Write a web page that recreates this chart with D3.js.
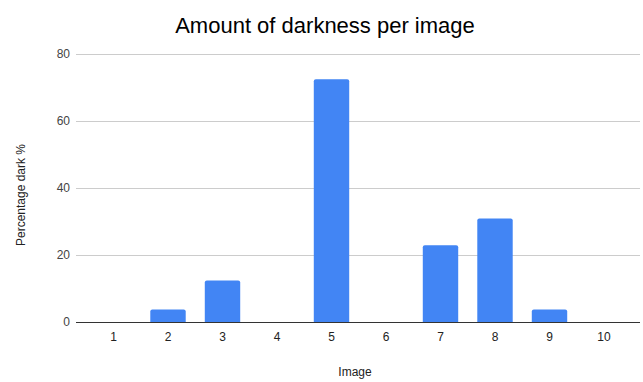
<!DOCTYPE html>
<html>
<head>
<meta charset="utf-8">
<script src="https://cdn.jsdelivr.net/npm/d3@7"></script>
<style>
  body { margin: 0; background: #fff; }
  text { font-family: "Liberation Sans", Arial, sans-serif; }
</style>
</head>
<body>
<div id="chart"></div>
<script>
// Data
const images = ["1", "2", "3", "4", "5", "6", "7", "8", "9", "10"];
const darkPct = [0, 3.7, 12.4, 0, 72.5, 0, 22.9, 30.9, 3.7, 0];
const yTicks = [0, 20, 40, 60, 80];

const W = 643, H = 382;
const svg = d3.select("#chart").append("svg")
  .attr("width", W)
  .attr("height", H);

const plot = {left: 76, right: 640, top: 54, bottom: 322};

const x = d3.scaleBand()
  .domain(images)
  .range([86.25, 631.25])
  .paddingInner(0.35)
  .paddingOuter(0.175);

const y = d3.scaleLinear()
  .domain([0, 80])
  .range([plot.bottom, plot.top]);

// Title
svg.append("text")
  .attr("x", 325)
  .attr("y", 33)
  .attr("text-anchor", "middle")
  .style("font-size", "22px")
  .style("fill", "#000")
  .text("Amount of darkness per image");

// Gridlines + y labels
svg.append("g")
  .attr("transform", `translate(${plot.left},0)`)
  .call(d3.axisLeft(y).tickValues(yTicks).tickSize(-(plot.right - plot.left)).tickPadding(6))
  .call(g => g.select(".domain").remove())
  .call(g => g.selectAll(".tick line").attr("stroke", "#cccccc"))
  .call(g => g.selectAll(".tick text")
    .style("font-size", "12px")
    .style("fill", "#444")
    .style("font-family", "'Liberation Sans', Arial, sans-serif"));

// Bars
svg.append("g")
  .selectAll("rect")
  .data(images)
  .join("rect")
  .attr("x", (d, i) => x(d))
  .attr("width", x.bandwidth())
  .attr("y", (d, i) => y(darkPct[i]))
  .attr("height", (d, i) => Math.max(0, y(0) - y(darkPct[i]) + 2))
  .attr("rx", 2)
  .attr("fill", "#4285f4");

// Cover the rounded bottom corners below baseline
svg.append("rect")
  .attr("x", plot.left)
  .attr("y", plot.bottom + 0.5)
  .attr("width", plot.right - plot.left)
  .attr("height", 4)
  .attr("fill", "#fff");

// X axis
svg.append("g")
  .attr("transform", `translate(0,${plot.bottom})`)
  .call(d3.axisBottom(x).tickSize(0).tickPadding(10))
  .call(g => g.select(".domain").remove())
  .call(g => g.selectAll(".tick text")
    .style("font-size", "12px")
    .style("fill", "#222")
    .style("font-family", "'Liberation Sans', Arial, sans-serif"));

svg.append("line")
  .attr("x1", plot.left)
  .attr("x2", plot.right)
  .attr("y1", plot.bottom + 0.5)
  .attr("y2", plot.bottom + 0.5)
  .attr("stroke", "#333")
  .attr("stroke-width", 1);

// Axis titles
svg.append("text")
  .attr("x", 355)
  .attr("y", 376)
  .attr("text-anchor", "middle")
  .style("font-size", "12px")
  .style("fill", "#222")
  .text("Image");

svg.append("text")
  .attr("transform", "translate(25,195) rotate(-90)")
  .attr("text-anchor", "middle")
  .style("font-size", "12px")
  .style("fill", "#222")
  .text("Percentage dark %");
</script>
</body>
</html>
